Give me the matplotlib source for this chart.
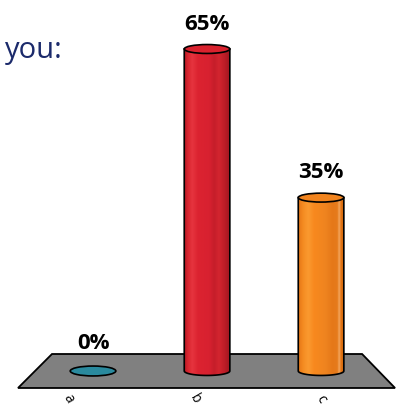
import numpy as np
import matplotlib
matplotlib.use("Agg")
import matplotlib.pyplot as plt
from matplotlib.patches import Ellipse, Polygon, PathPatch
from matplotlib.path import Path
from matplotlib.colors import LinearSegmentedColormap

categories = ["a", "b", "c"]
values = [0, 65, 35]
value_labels = ["0%", "65%", "35%"]

plt.rcParams["font.family"] = ["Open Sans", "DejaVu Sans"]

fig = plt.figure(figsize=(3.98, 4.08), dpi=100)
ax = fig.add_axes([0, 0, 1, 1])
ax.set_xlim(-0.816, 2.675)
ax.set_ylim(-7.47, 74.89)
ax.axis("off")

# perspective floor
floor = Polygon([(-0.36, 3.43), (2.36, 3.43), (2.649, -3.43), (-0.658, -3.43)],
                closed=True, facecolor="#808080", edgecolor="black", lw=1.3, zorder=1)
ax.add_patch(floor)

w = 0.40      # cylinder width (data units)
eh = 1.8      # ellipse height of caps

cmaps = {
    1: LinearSegmentedColormap.from_list("red", [
        (0.0, "#B01A24"), (0.08, "#D8252F"), (0.18, "#E6343E"), (0.3, "#DC2330"),
        (0.55, "#D82130"), (0.66, "#C51E2A"), (0.76, "#D3252F"), (0.9, "#B91C26"),
        (1.0, "#9E1720")]),
    2: LinearSegmentedColormap.from_list("orange", [
        (0.0, "#E27416"), (0.1, "#F48A20"), (0.22, "#FA9A30"), (0.35, "#F8891E"),
        (0.6, "#EF8420"), (0.75, "#E57818"), (0.86, "#E67B1C"), (0.9, "#F4A860"),
        (0.94, "#E27414"), (1.0, "#CF680E")]),
}
cap_colors = {1: "#D9222E", 2: "#F2841E"}
puddle_color = "#2A8A9E"

for i, (cat, v) in enumerate(zip(categories, values)):
    if v == 0:
        ax.add_patch(Ellipse((i, 0), w, 2.0, facecolor=puddle_color,
                             edgecolor="black", lw=1.2, zorder=3))
        continue
    x0, x1 = i - w / 2, i + w / 2
    # body outline: straight sides, rounded bottom
    t = np.linspace(np.pi, 2 * np.pi, 40)
    bottom = np.column_stack([i + w / 2 * np.cos(t), eh / 2 * np.sin(t)])
    verts = np.vstack([[(x0, v)], bottom, [(x1, v)], [(x0, v)]])
    path = Path(verts, closed=True)
    grad = np.linspace(0, 1, 200).reshape(1, -1)
    im = ax.imshow(grad, cmap=cmaps[i], aspect="auto",
                   extent=[x0, x1, -eh / 2, v], zorder=3, interpolation="bilinear")
    body = PathPatch(path, facecolor="none", edgecolor="black", lw=1.2, zorder=4)
    ax.add_patch(body)
    im.set_clip_path(body)
    ax.add_patch(Ellipse((i, v), w, eh, facecolor=cap_colors[i],
                         edgecolor="black", lw=1.2, zorder=5))

# value labels
for i, (v, lab) in enumerate(zip(values, value_labels)):
    off = 14 if v > 0 else 16
    ax.annotate(lab, (i, v), xytext=(0, off), textcoords="offset points",
                ha="center", va="baseline", fontsize=16, fontweight="bold",
                color="black", zorder=6)

# category labels, angled under the floor
for i, cat in enumerate(categories):
    ax.annotate(cat, (i, -3.43), xytext=(-18 + 9 * i, -8), textcoords="offset points",
                ha="center", va="center", rotation=-60, fontsize=10, color="black")

fig.text(5 / 398, 1 - 58 / 408, "you:", fontsize=21, color="#1B2A6B",
         ha="left", va="baseline")

fig.savefig("out.png", dpi=100)
